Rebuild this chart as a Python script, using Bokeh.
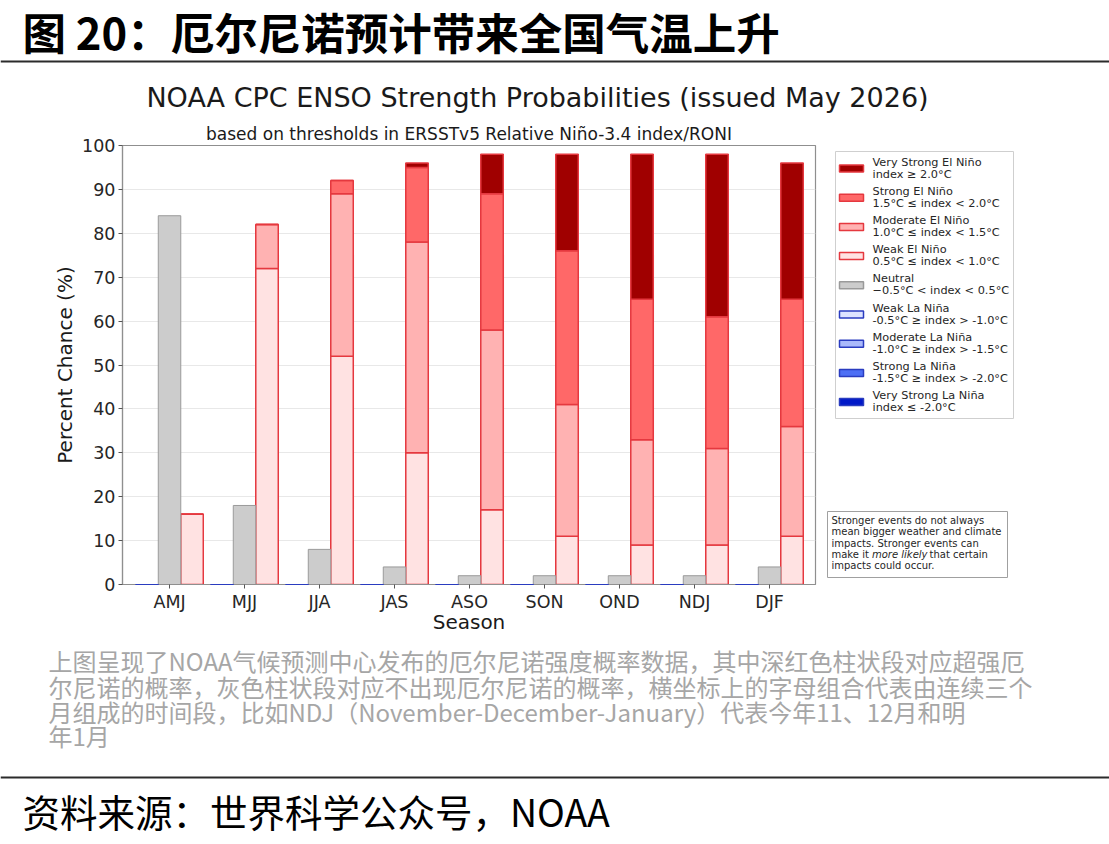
import numpy as np
from bokeh.plotting import figure
from bokeh.layouts import column, row
from bokeh.models import Range1d, FixedTicker, ColumnDataSource, Span
from bokeh.core.properties import value
from bokeh.embed import file_html
from bokeh.resources import INLINE

# ---- data -------------------------------------------------------------
seasons = ["AMJ", "MJJ", "JJA", "JAS", "ASO", "SON", "OND", "NDJ", "DJF"]

neutral = [84, 18, 8, 4, 2, 2, 2, 2, 4]
weak_el_nino = [16, 72, 52, 30, 17, 11, 9, 9, 11]
moderate_el_nino = [0, 10, 37, 48, 41, 30, 24, 22, 25]
strong_el_nino = [0, 0, 3, 17, 31, 35, 32, 30, 29]
very_strong_el_nino = [0, 0, 0, 1, 9, 22, 33, 37, 31]

weak_la_nina = [0, 0, 0, 0, 0, 0, 0, 0, 0]
moderate_la_nina = [0, 0, 0, 0, 0, 0, 0, 0, 0]
strong_la_nina = [0, 0, 0, 0, 0, 0, 0, 0, 0]
very_strong_la_nina = [0, 0, 0, 0, 0, 0, 0, 0, 0]

y_ticks = [0, 10, 20, 30, 40, 50, 60, 70, 80, 90, 100]

legend_names = ["Very Strong El Niño", "Strong El Niño", "Moderate El Niño",
                "Weak El Niño", "Neutral", "Weak La Niña", "Moderate La Niña",
                "Strong La Niña", "Very Strong La Niña"]
legend_ranges = ["index ≥ 2.0°C", "1.5°C ≤ index < 2.0°C",
                 "1.0°C ≤ index < 1.5°C", "0.5°C ≤ index < 1.0°C",
                 "−0.5°C < index < 0.5°C", "-0.5°C ≥ index > -1.0°C",
                 "-1.0°C ≥ index > -1.5°C", "-1.5°C ≥ index > -2.0°C",
                 "index ≤ -2.0°C"]

heading = "图 20：厄尔尼诺预计带来全国气温上升"
chart_title = "NOAA CPC ENSO Strength Probabilities (issued May 2026)"
chart_subtitle = "based on thresholds in ERSSTv5 Relative Niño-3.4 index/RONI"
caption_lines = [
    "上图呈现了NOAA气候预测中心发布的厄尔尼诺强度概率数据，其中深红色柱状段对应超强厄",
    "尔尼诺的概率，灰色柱状段对应不出现厄尔尼诺的概率，横坐标上的字母组合代表由连续三个",
    "月组成的时间段，比如NDJ（November-December-January）代表今年11、12月和明",
    "年1月",
]
source_line = "资料来源：世界科学公众号，NOAA"

# ---- styles -----------------------------------------------------------
EL_FILLS = ["#ffe2e2", "#ffb2b2", "#ff6868", "#a00000"]   # weak -> very strong
EL_EDGE = "#e5383f"
LA_FILLS = ["#dde3ff", "#aab9fb", "#4d6ff5", "#0018c8"]   # weak -> very strong
LA_EDGE = "#2a3cc0"
NEUTRAL_FILL = "#cccccc"
NEUTRAL_EDGE = "#9a9a9a"
LEGEND_FILLS = EL_FILLS[::-1] + [NEUTRAL_FILL] + LA_FILLS
LEGEND_EDGES = [EL_EDGE] * 4 + [NEUTRAL_EDGE] + [LA_EDGE] * 4
FRAME = "#8f8f8f"
MPL = "DejaVu Sans"
MPL_FONT = value(MPL)
CJK_FONT = value("Noto Sans CJK SC")
BAR_W = 0.3

# vertical borders shared by the chart and its side panel (frame 145..584)
HEAD_H = 120
TOP_BORDER = 25
BOTTOM_BORDER = 54
ROW_H = TOP_BORDER + 439 + BOTTOM_BORDER
FOOT_TOP = HEAD_H + ROW_H


def blank(width, height, x0, x1, y0, y1, **kw):
    """Helper canvas in pixel-like coordinates with y growing downward."""
    opts = dict(min_border=0)
    opts.update(kw)
    f = figure(width=width, height=height, x_range=Range1d(x0, x1),
               y_range=Range1d(y1, y0), x_axis_type=None, y_axis_type=None,
               toolbar_location=None, output_backend="svg",
               outline_line_color=None, **opts)
    f.grid.visible = False
    return f


# ---- header: report heading + chart title -------------------------------
head = blank(1109, HEAD_H, 0, 1109, 0, HEAD_H)
head.text(x=[22], y=[31], text=[heading], text_font=CJK_FONT,
          text_font_size=value("43.5px"), text_font_style="bold",
          text_color="#000000", text_baseline="middle", text_align="left")
head.add_layout(Span(location=61, dimension="width", line_color="#2b2b2b",
                     line_width=2))
head.text(x=[537], y=[97], text=[chart_title], text_font=MPL_FONT,
          text_font_size=value("27px"), text_color="#1a1a1a",
          text_baseline="middle", text_align="center")

# ---- main bar chart -----------------------------------------------------
idx = np.arange(len(seasons))
src = ColumnDataSource(dict(
    x_la=idx - BAR_W, x_neu=idx, x_el=idx + BAR_W,
    neutral=neutral,
    weak_el=weak_el_nino, moderate_el=moderate_el_nino,
    strong_el=strong_el_nino, very_strong_el=very_strong_el_nino,
    weak_la=weak_la_nina, moderate_la=moderate_la_nina,
    strong_la=strong_la_nina, very_strong_la=very_strong_la_nina,
))

p = figure(width=822, height=ROW_H, x_range=Range1d(-0.627, 8.613),
           y_range=Range1d(0, 100), toolbar_location=None,
           output_backend="svg", min_border_left=122, min_border_right=7,
           min_border_top=TOP_BORDER, min_border_bottom=BOTTOM_BORDER)

p.title.text = chart_subtitle
p.title.align = "center"
p.title.offset = 9
p.title.standoff = 3
p.title.text_font = MPL
p.title.text_font_size = "17px"
p.title.text_font_style = "normal"
p.title.text_color = "#1a1a1a"

p.xgrid.visible = False
p.ygrid.grid_line_color = "#e8e8e8"
p.ygrid.grid_line_width = 1
p.ygrid.ticker = FixedTicker(ticks=y_ticks)

p.vbar_stack(["weak_el", "moderate_el", "strong_el", "very_strong_el"],
             x="x_el", width=BAR_W, source=src, fill_color=EL_FILLS,
             line_color=EL_EDGE, line_width=1.5)
p.vbar(x="x_neu", top="neutral", width=BAR_W, source=src,
       fill_color=NEUTRAL_FILL, line_color=NEUTRAL_EDGE, line_width=1)
la_renderers = p.vbar_stack(["weak_la", "moderate_la", "strong_la",
                             "very_strong_la"],
                            x="x_la", width=BAR_W, source=src,
                            fill_color=LA_FILLS, line_color=LA_EDGE,
                            line_width=1.2)
for r in la_renderers:
    r.level = "overlay"

p.outline_line_color = FRAME
p.outline_line_width = 1.2

p.xaxis.ticker = FixedTicker(ticks=list(idx))
p.xaxis.major_label_overrides = {int(i): s for i, s in zip(idx, seasons)}
p.yaxis.ticker = FixedTicker(ticks=y_ticks)
for ax in (p.xaxis, p.yaxis):
    ax.axis_line_color = FRAME
    ax.axis_line_width = 1.2
    ax.major_tick_line_color = "#555555"
    ax.major_tick_in = 0
    ax.major_tick_out = 4
    ax.minor_tick_line_color = None
    ax.major_label_text_font = MPL
    ax.major_label_text_font_size = "17.5px"
    ax.major_label_text_color = "#262626"
    ax.axis_label_text_font = MPL
    ax.axis_label_text_font_size = "20px"
    ax.axis_label_text_font_style = "normal"
    ax.axis_label_text_color = "#1a1a1a"

p.xaxis.axis_label = "Season"
p.xaxis.major_label_standoff = 3
p.xaxis.axis_label_standoff = -5
p.yaxis.axis_label = "Percent Chance (%)"
p.yaxis.major_label_standoff = 3
p.yaxis.axis_label_standoff = 2

# ---- legend and note box (same frame rows as the chart) -----------------
side = blank(287, ROW_H, 822, 1109, 145, 584,
             min_border_top=TOP_BORDER, min_border_bottom=BOTTOM_BORDER,
             min_border_left=0, min_border_right=0)
n = len(legend_names)
rows_y = 168 + 29.2 * np.arange(n)
side.quad(left=[835], right=[1013], top=[151], bottom=[418],
          fill_color="white", line_color="#cfcfcf", line_width=1)
side.quad(left=[839] * n, right=[863] * n, top=list(rows_y - 3.5),
          bottom=list(rows_y + 3.5), fill_color=LEGEND_FILLS,
          line_color=LEGEND_EDGES, line_width=1.5)
side.text(x=[872] * n, y=list(rows_y - 6.5), text=legend_names,
          text_font=MPL_FONT, text_font_size=value("11.3px"),
          text_color="#262626", text_baseline="middle", text_align="left")
side.text(x=[872] * n, y=list(rows_y + 5.5), text=legend_ranges,
          text_font=MPL_FONT, text_font_size=value("11.3px"),
          text_color="#262626", text_baseline="middle", text_align="left")

side.quad(left=[827], right=[1007], top=[511], bottom=[577],
          fill_color="white", line_color="#a0a0a0", line_width=1)
note_plain = ["Stronger events do not always",
              "mean bigger weather and climate",
              "impacts. Stronger events can",
              "impacts could occur."]
side.text(x=[831] * 4, y=[520, 531.3, 542.6, 565.2], text=note_plain,
          text_font=MPL_FONT, text_font_size=value("10px"),
          text_color="#262626", text_baseline="middle", text_align="left")
side.text(x=[831, 929], y=[553.9, 553.9], text=["make it", "that certain"],
          text_font=MPL_FONT, text_font_size=value("10px"),
          text_color="#262626", text_baseline="middle", text_align="left")
side.text(x=[871.5], y=[553.9], text=["more likely"], text_font=MPL_FONT,
          text_font_size=value("10px"), text_font_style="italic",
          text_color="#262626", text_baseline="middle", text_align="left")

# ---- caption and source ---------------------------------------------
foot = blank(1109, 844 - FOOT_TOP, 0, 1109, FOOT_TOP, 844)
foot.text(x=[48] * len(caption_lines), y=[660, 686, 711, 735],
          text=caption_lines, text_font=CJK_FONT,
          text_font_size=value("24px"), text_color="#a6a6a6",
          text_baseline="middle", text_align="left")
foot.add_layout(Span(location=777, dimension="width", line_color="#2b2b2b",
                     line_width=2))
foot.text(x=[22], y=[810], text=[source_line], text_font=CJK_FONT,
          text_font_size=value("37.5px"), text_color="#000000",
          text_baseline="middle", text_align="left")

layout = column(head, row(p, side, spacing=0), foot, spacing=0)
open("out.html", "w").write(file_html(layout, INLINE))
